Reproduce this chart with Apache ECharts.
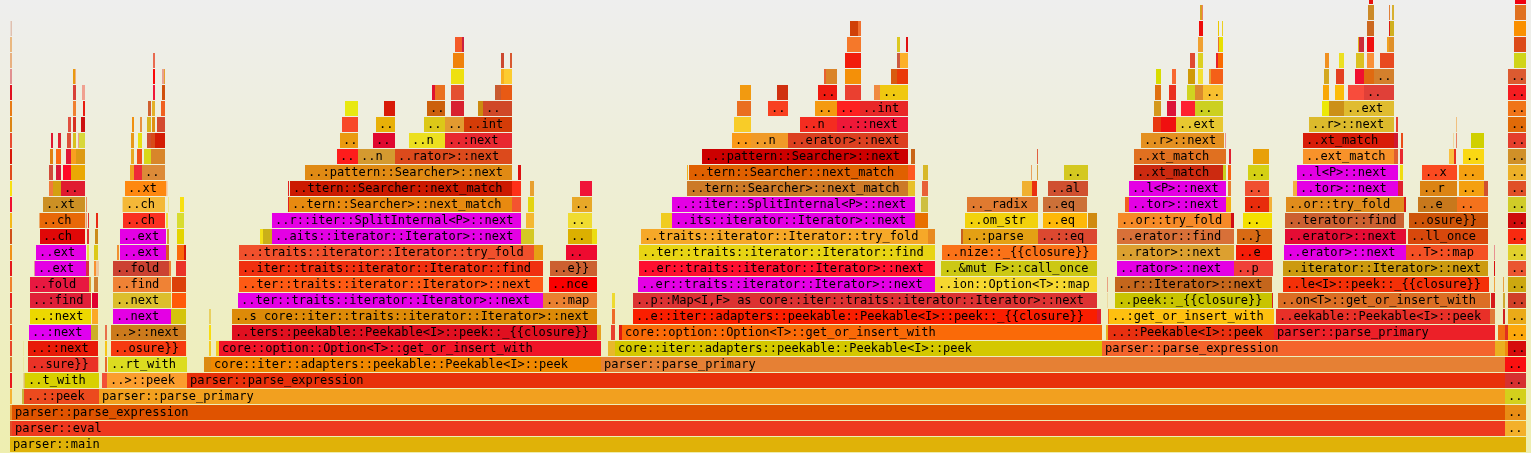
<!DOCTYPE html>
<html><head><meta charset="utf-8">
<style>html,body{margin:0;padding:0;background:#eeeeb0}#c{width:1531px;height:453px}</style>
<script src="https://cdn.jsdelivr.net/npm/echarts@6/dist/echarts.min.js"></script>
</head><body><div id="c"></div>
<script>
// One list per stack depth: [first sample, last sample, frame name]
const frameRows = [
/*0*/[[10,1526,"parser::main"]],
/*1*/[[10,12,""],[12,1505,"parser::eval"],[1505,1526,".."]],
/*2*/[[10,12,""],[12,1505,"parser::parse_expression"],[1505,1526,".."]],
/*3*/[[10,12,""],[22,24,""],[24,99,"..::peek"],[99,1505,"parser::parse_primary"],[1505,1526,".."]],
/*4*/[[10,12,""],[23.5,25,""],[25,99,"..t_with"],[102,107,""],[107,187,"..>::peek"],[187,1505,"parser::parse_expression"],[1505,1526,".."]],
/*5*/[[10,12,""],[23,24,""],[28,98.5,"..sure}}"],[98.5,99.5,""],[105,107,""],[108,187,"..rt_with"],[204,211,""],[211,601,"core::iter::adapters::peekable::Peekable<I>::peek"],[601,1505,"parser::parse_primary"],[1505,1526,".."]],
/*6*/[[10,12,""],[23,24,""],[28,98,"..::next"],[105,107,""],[111,186,"..osure}}"],[186,187,""],[209,211,""],[216,219,""],[219,601,"core::option::Option<T>::get_or_insert_with"],[608,615,""],[615,1102,"core::iter::adapters::peekable::Peekable<I>::peek"],[1102,1495,"parser::parse_expression"],[1495,1505,""],[1505,1508,""],[1508,1526,".."]],
/*7*/[[10,12,""],[29,91,"..:next"],[91,98,""],[105,107,""],[111,186,"..>::next"],[209,211,""],[232,597,"..ters::peekable::Peekable<I>::peek::_{{closure}}"],[597,601,""],[611,615,""],[619,622,""],[622,1102,"core::option::Option<T>::get_or_insert_with"],[1106,1108,""],[1108,1274,"..::Peekable<I>::peek"],[1274,1495,"parser::parse_primary"],[1498,1505,""],[1505,1508,""],[1508,1526,".."]],
/*8*/[[10,12,""],[30,91,"..:next"],[92,98,""],[113,171,"..next"],[171,186,""],[209,211,""],[232,597,"..s core::iter::traits::iterator::Iterator>::next"],[612,615,""],[633,1097,"..e::iter::adapters::peekable::Peekable<I>::peek::_{{closure}}"],[1097,1101,""],[1108,1109,""],[1109,1274,"..:get_or_insert_with"],[1276,1490,"..eekable::Peekable<I>::peek"],[1490,1495,""],[1503,1505,""],[1508,1526,".."]],
/*9*/[[10,12,""],[30,91,"..:find"],[92,98,""],[113,171,"..next"],[172,186,""],[238,543,"..ter::traits::iterator::Iterator>::next"],[543,597,"..:map"],[612,615,""],[633,1097,"..p::Map<I,F> as core::iter::traits::iterator::Iterator>::next"],[1107,1108,""],[1115,1272,"..peek::_{{closure}}"],[1272,1273,""],[1278,1490,"..on<T>::get_or_insert_with"],[1491,1495,""],[1503,1505,""],[1508,1526,".."]],
/*10*/[[10,12,""],[30,89,"..fold"],[89,91,""],[94,98,""],[113,171,"..find"],[172,186,""],[239,543,"..ter::traits::iterator::Iterator>::next"],[549,597,"..nce"],[638,935,"..er::traits::iterator::Iterator>::next"],[935,1097,"..ion::Option<T>::map"],[1107,1108,""],[1115,1272,"..r::Iterator>::next"],[1283,1489,"..le<I>::peek::_{{closure}}"],[1494,1495,""],[1503,1504,""],[1508,1526,".."]],
/*11*/[[10,12,""],[34,35,""],[35,86,"..ext"],[86,89,""],[94,96,""],[96,99,""],[113,169,"..fold"],[169,171,""],[176,186,""],[239,543,"..iter::traits::iterator::Iterator::find"],[550,597,"..e}}"],[639,935,"..er::traits::iterator::Iterator>::next"],[941,1097,"..&mut F>::call_once"],[1117,1234,"..rator>::next"],[1234,1273,"..p"],[1283,1488,"..iterator::Iterator>::next"],[1494,1495,""],[1508,1526,".."]],
/*12*/[[10,12,""],[36,86,"..ext"],[87,89,""],[94,98,""],[117,119,""],[120,166,"..ext"],[166,169,""],[177,184,""],[184,186,""],[239,534,"..:traits::iterator::Iterator::try_fold"],[534,543,""],[566,597,".."],[639,935,"..ter::traits::iterator::Iterator::find"],[942,1097,"..nize::_{{closure}}"],[1117,1234,"..rator>::next"],[1236,1272,"..e"],[1284,1406,"..erator>::next"],[1406,1488,"..T>::map"],[1494,1495,""],[1508,1526,".."]],
/*13*/[[10,12,""],[40,85,"..ch"],[87,89,""],[95,98,""],[120,166,"..ext"],[167,169,""],[177,184,""],[260,263,""],[263,272,""],[272,521,"..aits::iterator::Iterator>::next"],[521,534,""],[568,592,".."],[592,597,""],[641,928,"..traits::iterator::Iterator::try_fold"],[928,935,""],[961,963,""],[963,1038,"..:parse"],[1038,1097,"..::eq"],[1117,1234,"..erator::find"],[1237,1272,"..}"],[1285,1406,"..erator>::next"],[1408,1488,"..ll_once"],[1508,1526,".."]],
/*14*/[[10,12,""],[39.5,85,"..ch"],[85.5,87,""],[88,89,""],[96,98,""],[123,165,"..ch"],[166,168,""],[177,184,""],[272,521,"..r::iter::SplitInternal<P>::next"],[526,534,""],[568,592,".."],[661,672,""],[672,915,"..its::iterator::Iterator>::next"],[915,928,""],[965,1038,"..om_str"],[1043,1087,"..eq"],[1088,1097,""],[1118,1231,"..or::try_fold"],[1231,1234,""],[1243,1272,".."],[1285,1404,"..terator::find"],[1409,1488,"..osure}}"],[1508,1526,".."]],
/*15*/[[10,12,""],[43,85,"..xt"],[86,87,""],[122,123,""],[123,165,"..ch"],[168,169,""],[180,184,""],[288,289,""],[289,512,"..tern::Searcher>::next_match"],[512,521,""],[528,534,""],[572,592,".."],[672,915,"..::iter::SplitInternal<P>::next"],[921,928,""],[967,1038,".._radix"],[1043,1087,"..eq"],[1125,1129,""],[1129,1226,"..tor>::next"],[1226,1231,""],[1245,1269,".."],[1269,1272,""],[1286,1404,"..or::try_fold"],[1404,1406,""],[1418,1457,"..e"],[1457,1488,".."],[1508,1526,".."]],
/*16*/[[10,12,""],[49,53,""],[53,61,""],[61,85,".."],[125,166,"..xt"],[166,167.5,""],[288,289,""],[290,512,"..ttern::Searcher::next_match"],[512,521,""],[530,534,""],[580,592,""],[687,908,"..tern::Searcher>::next_match"],[908,915,""],[922,928,""],[1022,1032,""],[1032,1037,""],[1048,1088,"..al"],[1129,1226,"..l<P>::next"],[1228,1231,""],[1245,1269,".."],[1293,1297,""],[1297,1398,"..tor>::next"],[1398,1403,""],[1420,1457,"..r"],[1459,1484,".."],[1484,1488,""],[1508,1526,".."]],
/*17*/[[10,12,""],[49,53,""],[56,61,""],[63,71,""],[71,85,""],[130,134,""],[134,142,""],[142,165,".."],[305,512,"..:pattern::Searcher>::next"],[518,521,""],[687,688,""],[689,908,"..tern::Searcher::next_match"],[908,915,""],[923,928,""],[1031,1032,""],[1037,1038,""],[1064,1088,".."],[1134,1223,"..xt_match"],[1223,1226,""],[1228,1231,""],[1248,1269,".."],[1297,1398,"..l<P>::next"],[1400,1403,""],[1422,1457,"..x"],[1459,1484,".."],[1508,1526,".."]],
/*18*/[[10,12,""],[50,53,""],[56,61,""],[66,71,""],[71,76,""],[76,85,""],[131,134,""],[137,142,""],[144,151,""],[151,165,""],[337,358,".."],[358,395,"..n"],[395,512,"..rator>::next"],[702,908,"..:pattern::Searcher>::next"],[911,915,""],[1037,1038,""],[1134,1226,"..xt_match"],[1229,1231,""],[1253,1269,""],[1303,1394,"..ext_match"],[1394,1398,""],[1400,1403,""],[1449,1454,""],[1454,1456,""],[1463,1484,".."],[1508,1526,".."]],
/*19*/[[10,12,""],[51,53,""],[58,61,""],[67,71,""],[73,76,""],[78,79,""],[79,85,""],[131,134,""],[138,142,""],[147,151,""],[151,155,""],[155,165,""],[340,358,".."],[373,395,".."],[409,445,"..n"],[445,512,"..:next"],[732,751,".."],[751,788,"..n"],[788,908,"..erator>::next"],[1141,1224,"..r>::next"],[1225,1226,""],[1303,1394,"..xt_match"],[1394,1398,""],[1401,1403,""],[1453,1454,""],[1456,1457,""],[1471,1484,""],[1508,1526,".."]],
/*20*/[[10,12,""],[68,71,""],[73,76,""],[81,85,""],[132,134,""],[140,142,""],[147,151,""],[152,155,""],[157,165,""],[342,358,""],[376,395,".."],[424,445,".."],[445,464,".."],[464,512,"..int"],[734,751,""],[800,837,"..n"],[837,908,"..::next"],[1153,1161,""],[1161,1176,""],[1176,1223,"..ext"],[1309,1394,"..r>::next"],[1396,1398,""],[1456,1457,""],[1508,1526,".."]],
/*21*/[[10,12,""],[73,76,""],[83,85,""],[148,151,""],[152,155,""],[161,165,""],[345,358,""],[384,395,""],[427,445,".."],[451,464,""],[478,483,""],[483,512,".."],[737,751,""],[768,788,".."],[815,837,".."],[837,860,".."],[860,908,"..int"],[1154,1161,""],[1167,1176,""],[1181,1195,""],[1195,1223,".."],[1322,1329,""],[1329,1344,""],[1344,1394,"..ext"],[1508,1526,".."]],
/*22*/[[10,12,""],[73,76,""],[82,85,""],[153,155,""],[162,165,""],[432,435,""],[435,445,""],[451,464,""],[495,501,""],[501,512,""],[740,751,""],[777,788,""],[818,837,".."],[845,861,""],[874,880,""],[880,908,".."],[1155,1161,""],[1169,1176,""],[1187,1195,""],[1195,1203,""],[1203,1223,".."],[1323,1329,""],[1335,1344,""],[1348,1364,""],[1364,1394,".."],[1508,1526,".."]],
/*23*/[[10,12,""],[73,75,""],[75,76,""],[153,155,""],[162,164,""],[164,165,""],[451,464,""],[501,504,""],[504,512,""],[824,826,""],[826,837,""],[845,861,""],[891,897,""],[897,908,""],[1156,1161,""],[1172,1176,""],[1188,1195,""],[1198,1203,""],[1209,1211,""],[1211,1223,""],[1324,1329,""],[1336,1344,""],[1355,1364,""],[1364,1374,""],[1374,1394,".."],[1508,1526,".."]],
/*24*/[[10,12,""],[153,155,""],[453,464,""],[501,504,""],[510,512,""],[845,861,""],[897,900,""],[900,908,""],[1190,1195,""],[1198,1203,""],[1216,1218,""],[1218,1223,""],[1325,1329,""],[1339,1344,""],[1356,1364,""],[1367,1374,""],[1380,1394,""],[1514,1526,""]],
/*25*/[[10,12,""],[455,462,""],[462,464,""],[847,861,""],[897,900,""],[906,908,""],[1198,1203,""],[1218,1219,""],[1219,1223,""],[1358,1359,""],[1359,1364,""],[1367,1374,""],[1387,1389,""],[1389,1394,""],[1514,1526,""]],
/*26*/[[10.5,12,""],[850,858,""],[858,861,""],[1199,1203,""],[1218,1219,""],[1222,1223,""],[1367,1374,""],[1389,1390,""],[1390,1394,""],[1514,1526,""]],
/*27*/[[1200,1202,""],[1202,1203,""],[1368,1374,""],[1389,1390,""],[1392,1394,""],[1515,1526,""]],
/*28*/[[1369,1373,""],[1515,1526,""]]
];
// Fill colours, in the same order as frameRows
const colorRows = [
["#e0b208"],
["#e0502a","#ee391e","#f3b02a"],
["#e8952d","#e05300","#e88c14"],
["#f5b233","#c8b53a","#ec4a1e","#f2a01f","#d4d01c"],
["#e8181c","#e0c060","#d8d000","#f25038","#fb9e2e","#e8300a","#d63030"],
["#d8802c","#ece8a0","#ea3226","#f4e8a0","#e86a2c","#dcdc20","#dc8a10","#f08800","#e68034","#fa1010"],
["#e8452a","#ece8a0","#e81a08","#f5c518","#f63a10","#f4e8a0","#f4cc20","#f2cc20","#f01428","#e8b82c","#d4c800","#f4642c","#eab020","#f08a10","#d60c0c"],
["#ee4e18","#e000f0","#ccaf28","#e8704a","#cc7a1c","#f8dc10","#e01020","#e8a020","#e84030","#e01a10","#fa6a08","#e8b020","#e83010","#ec2028","#f07010","#e03020","#fca80c"],
["#e07030","#ecd800","#fba828","#e400e4","#d4c40c","#e8d060","#dd8a08","#ee6a28","#fa1e00","#e02030","#f07818","#fec010","#e83028","#e07a3a","#d02020","#eaaa18"],
["#e8201c","#e02038","#e00030","#dcbe2c","#ff5a0a","#e400e4","#ea8030","#eeda30","#dc3232","#ecd8a0","#c8c400","#d82020","#dc6e24","#d61a1a","#d0a830","#d04028"],
["#f0802c","#e81840","#dca030","#d08030","#ef8235","#dc400a","#fe5a14","#fa0000","#e400e4","#f6d830","#e8a080","#c4661c","#f43008","#f0a040","#e8a040","#cca810"],
["#e4181c","#e890a0","#e400e4","#d83040","#f89030","#ecc8a0","#cc4232","#f08030","#ea3228","#f03010","#cc6030","#fe1030","#ccc814","#e400e4","#f04238","#cc9a10","#d81010","#ea5530"],
["#f09018","#e400e4","#e8e040","#dcc818","#f09030","#e400e4","#d85c20","#fa6a0a","#d81808","#f0502c","#e6a014","#ee0a30","#e8d414","#fa7218","#dca030","#f41c08","#e400e4","#f45024","#e89090","#e0d02c"],
["#d05018","#e00808","#e03030","#cc8a18","#e400e4","#d0a030","#e4d400","#f4e018","#cab018","#e400e4","#d4c824","#dcb000","#ecdc10","#f6a828","#e88a20","#c86020","#e4a014","#dc4830","#d87038","#d86a14","#e40c34","#d8480c","#f82a10"],
["#f4b818","#e86808","#e8a080","#e03030","#e82a14","#fa3020","#f4dc40","#d8dc30","#e400e4","#f4b830","#f0dc30","#f0cc20","#e400e4","#e87000","#f2d20c","#feb808","#d08a10","#f68a28","#d00c14","#f4e000","#cc6030","#ce5408","#ce0c0c"],
["#f01030","#cc9024","#e89060","#f0d890","#f4b838","#f0e890","#f8e010","#e02020","#e88a10","#f45430","#e4d410","#e8a828","#e400e4","#cebf40","#e07a30","#cc7038","#f06020","#e400e4","#f4b010","#e82c0c","#f2b038","#e08c1c","#d81818","#c8781c","#f4721c","#d0cc28"],
["#f8e010","#f07a3a","#d4a010","#e01c30","#fe8810","#f8c090","#e02020","#cc1a00","#fe3018","#e8a030","#f01438","#cc7a28","#e8c028","#e86038","#f0b030","#ea3010","#d05030","#e400e4","#e88030","#f05030","#f2b040","#e400e4","#e02030","#dc8414","#f4a010","#d05030","#e05028"],
["#e04a1c","#d04a38","#d81838","#fe0a28","#eaa804","#f0a020","#ee2a38","#dc8a38","#e08a14","#dd1010","#f0b020","#e06000","#fe5820","#d8b828","#e8a060","#d8a040","#d4c820","#cc2a10","#c8d020","#f86010","#d4d014","#e400e4","#f0dc10","#fa4a20","#f4a010","#ecb028"],
["#d81808","#e08010","#fa6a10","#e01838","#f8a020","#dd9a14","#e8a820","#f05018","#d8d818","#d8862a","#fe1c1c","#d49a30","#dc4a1c","#cc0000","#c86418","#e06040","#e07020","#e02030","#e8a008","#f8922a","#e06030","#e82830","#fac040","#e83020","#fad814","#d09028"],
["#e84a30","#e01830","#e02030","#dc5038","#d8c020","#e8a090","#d8d83a","#e89818","#e8e010","#d05030","#d84a18","#d41c04","#ea9a10","#e00830","#ece020","#e82830","#fa9a18","#f09a28","#dc4020","#e49020","#e89090","#d81c08","#d01830","#ea4a18","#f0d8a0","#e88060","#d0d000","#e43e2c"],
["#dc8414","#e05040","#d83020","#cc1010","#f09010","#e89040","#d8b420","#e09010","#d44a30","#f84828","#e8b008","#dcc818","#e29a30","#d43c08","#f8cc28","#f42c20","#ee1838","#e83810","#f01010","#e8c830","#dcba2c","#e84030","#f0c080","#e06a08"],
["#e87a14","#f08030","#e81c10","#d06030","#e4b028","#f06020","#e8e810","#d81a08","#cc600c","#d82030","#cc8a10","#d04828","#ea6e20","#f84020","#f49a10","#fe2020","#e82828","#d4981c","#dc1438","#fe2030","#ccd020","#ece808","#cc9018","#e0bc30","#f07418"],
["#e01020","#d84038","#f0a090","#f01838","#d0500c","#e01030","#ea7020","#e45030","#c85a30","#e85a14","#f29a10","#d03010","#ee1a10","#ea4030","#f08a40","#f0c810","#e07010","#ea3020","#d0d420","#dc8a2c","#f8c030","#f8a808","#fcbc08","#f84c3c","#e04038","#f41c20"],
["#e09090","#e89a10","#f0b080","#fa0808","#e8a090","#e8a030","#eee010","#f8b020","#fccc30","#e86030","#da8428","#f49008","#d85a10","#ea3808","#d8dc00","#f86830","#d09a08","#f4e030","#e8a030","#f46018","#d4a820","#e44020","#f01030","#e06a10","#d4802c","#dc5a30"],
["#e8b080","#e86a50","#f0820c","#cc4830","#d85830","#f21c0c","#cc5a40","#fcb028","#e04830","#dcd020","#e82028","#fa6a00","#f09020","#ece020","#dcc020","#fa9038","#e84a20","#d0d418"],
["#eab880","#f45a28","#cc2040","#f5782a","#dcc820","#e01010","#f0a030","#e87030","#e8e000","#e0b020","#cc2c38","#f01010","#f0a020","#e09028","#dc4a18"],
["#e0c0b0","#d04008","#f07030","#ee0c0c","#ecc800","#ecd020","#cc6820","#dc1c10","#d0b020","#fa9000"],
["#d8a020","#f08060","#cc8a28","#e0803a","#d8b030","#e07020"],
["#e81010","#f00010"]
];
const rootStart = 10, rootEnd = 1526;

const flat = [], names = [], fills = [];
frameRows.forEach((row, level) => row.forEach((f, i) => {
  flat.push([f[0], f[1], level]);
  names.push(f[2]);
  fills.push(colorRows[level][i]);
}));

const chart = echarts.init(document.getElementById('c'), null, {renderer: 'canvas'});
chart.setOption({
  animation: false,
  backgroundColor: {type:'linear', x:0, y:0, x2:0, y2:1,
    colorStops:[{offset:0,color:'#eeeeee'},{offset:1,color:'#eeeeb0'}]},
  grid: {left: rootStart, width: rootEnd - rootStart, top: 0, height: 453},
  xAxis: {type:'value', min: rootStart, max: rootEnd, show:false},
  yAxis: {type:'value', min: 0, max: 453/16, show:false},
  series: [{
    type: 'custom',
    silent: true,
    clip: false,
    data: flat,
    renderItem(params, api) {
      const a = api.coord([api.value(0), api.value(2)]);
      const b = api.coord([api.value(1), api.value(2)]);
      const rowH = api.size([0, 1])[1];
      const top = a[1] - rowH;
      const children = [{
        type: 'rect',
        shape: {x: a[0], y: top, width: b[0] - a[0], height: rowH - 1},
        style: {fill: fills[params.dataIndex]}
      }];
      const label = names[params.dataIndex];
      if (label) children.push({
        type: 'text',
        style: {x: a[0] + 3, y: top + 8, text: label, fill: '#000',
          font: '12px "DejaVu Sans Mono"', verticalAlign: 'middle', align: 'left'}
      });
      return {type: 'group', children};
    }
  }]
});
</script></body></html>
